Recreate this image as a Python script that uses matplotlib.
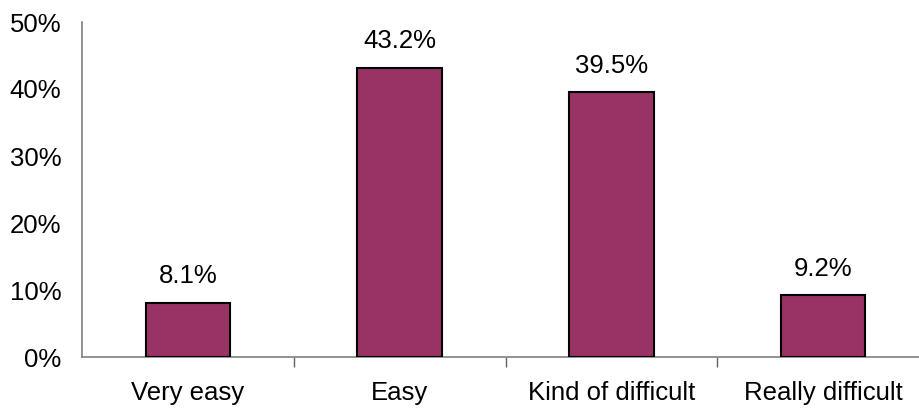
import matplotlib
matplotlib.use("Agg")
import matplotlib.pyplot as plt
from matplotlib.ticker import FixedLocator, PercentFormatter

categories = ["Very easy", "Easy", "Kind of difficult", "Really difficult"]
values = [8.1, 43.2, 39.5, 9.2]
yticks = [0, 10, 20, 30, 40, 50]

plt.rcParams['font.family'] = ['Liberation Sans', 'DejaVu Sans']
FS = 18.5

fig = plt.figure(figsize=(9.19, 4.11), dpi=100)
ax = fig.add_axes([82/919, 1-357/411, 847/919, (357-22)/411])

x = list(range(len(categories)))
ax.bar(x, values, width=0.4, color="#993366", edgecolor="black", linewidth=1.5, zorder=3)

for xi, v in zip(x, values):
    ax.annotate(f"{v:.1f}%", (xi, v), xytext=(0, 14), textcoords="offset points",
                ha="center", va="baseline", fontsize=FS)

ax.set_xlim(-0.5, len(categories) - 0.5)
ax.set_ylim(0, 50)
ax.set_yticks(yticks)
ax.yaxis.set_major_formatter(PercentFormatter(decimals=0))
ax.set_xticks(x)
ax.set_xticklabels(categories)
ax.xaxis.set_minor_locator(FixedLocator([i + 0.5 for i in range(len(categories) - 1)]))

ax.tick_params(axis="y", length=0, pad=15, labelsize=FS)
ax.tick_params(axis="x", which="major", length=0, pad=17, labelsize=FS)
ax.tick_params(axis="x", which="minor", length=7, width=1, color="#606060", direction="out")

for s in ["top", "right"]:
    ax.spines[s].set_visible(False)
for s in ["left", "bottom"]:
    ax.spines[s].set_color("#808080")
    ax.spines[s].set_linewidth(1.2)

fig.savefig("out.png", dpi=100)
